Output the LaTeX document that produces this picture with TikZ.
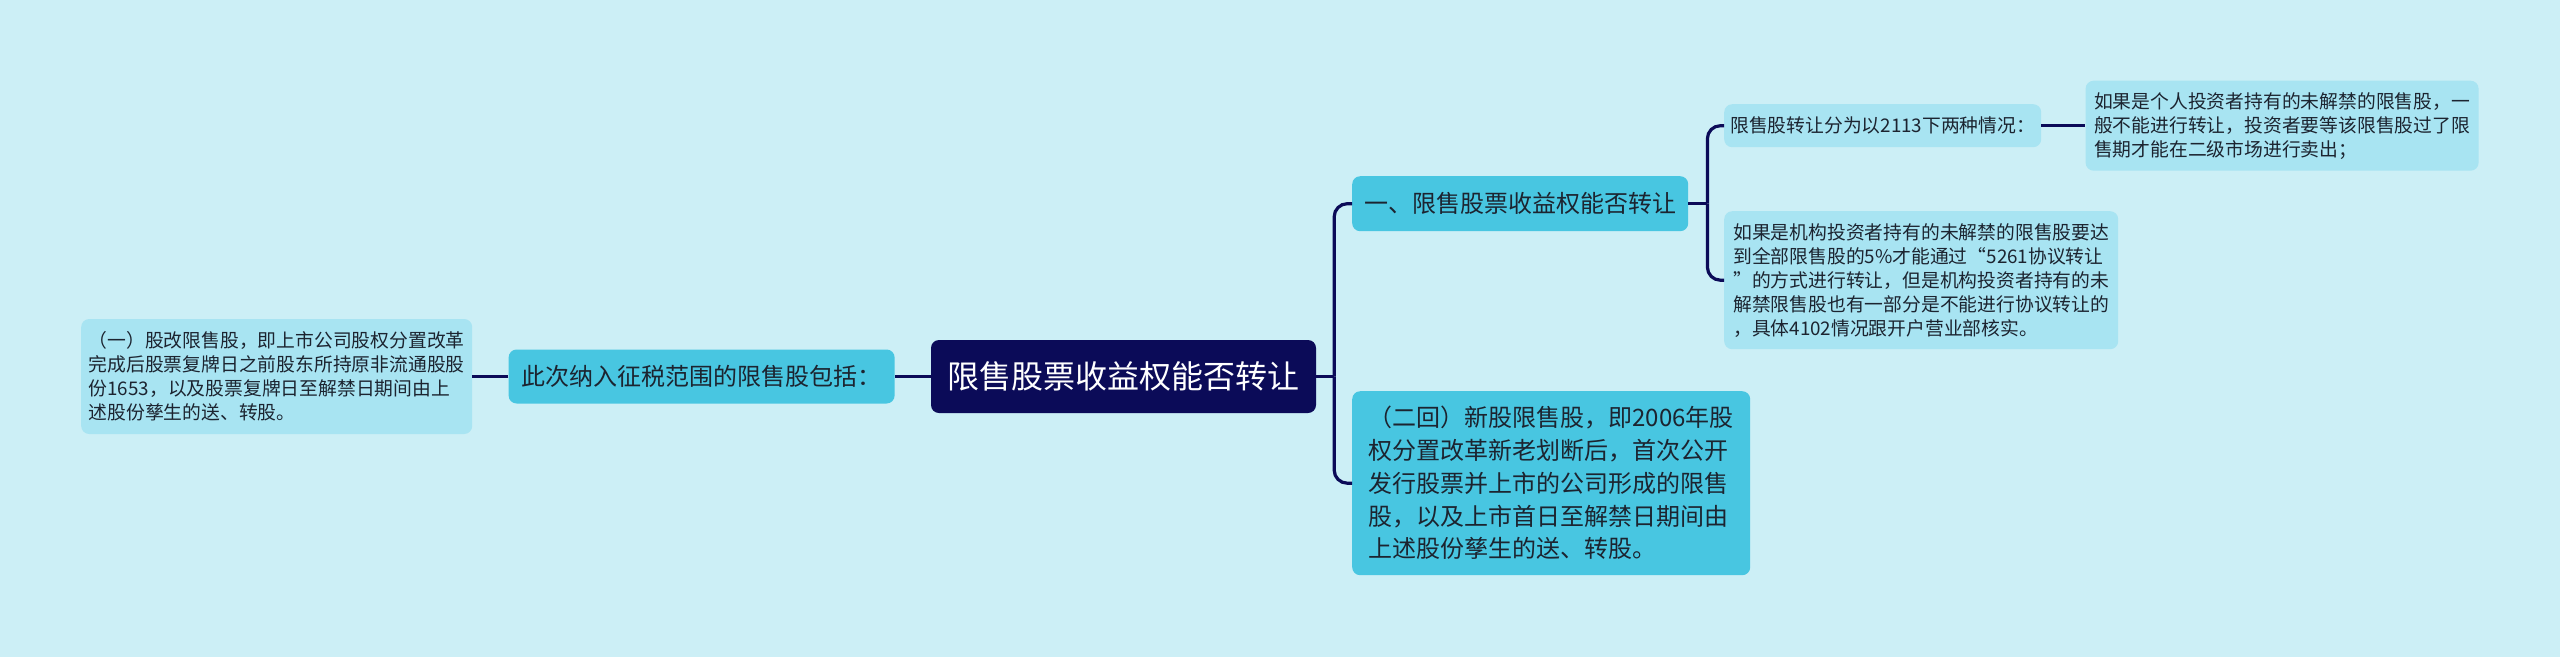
\documentclass[tikz,border=0pt]{standalone}
\usepackage{fontspec}
\setmainfont{Noto Sans CJK SC}
\usepackage{xcolor}
\usetikzlibrary{positioning,calc}
\definecolor{bgcyan}{HTML}{CCEFF6}
\definecolor{navy}{HTML}{0B0B58}
\definecolor{midcyan}{HTML}{48C6E1}
\definecolor{palecyan}{HTML}{A8E4F2}
\definecolor{inkdark}{HTML}{1C2430}
\newcommand{\branchfont}{\fontsize{24}{32.75}\selectfont}
\newcommand{\leaffont}{\fontsize{18.8}{24}\selectfont}
\tikzset{
  mynode/.style={
    fill=#1, rounded corners=8pt, inner sep=0pt,
    align=left, text=inkdark,
  },
  rootnode/.style={
    fill=navy, text=white, rounded corners=8pt, inner sep=0pt,
    font=\fontsize{32}{38}\selectfont,
  },
  link/.style={draw=navy, line width=3.2pt, rounded corners=13pt},
}

\begin{document}
\begin{tikzpicture}[x=1pt, y=-1pt]

  \path[use as bounding box, fill=bgcyan] (0,0) rectangle (2560,657);

  \node[rootnode, minimum width=385pt, minimum height=73pt] (root)
    at (1123.5,376.5) {限售股票收益权能否转让};

  \node[mynode=midcyan, font=\branchfont, minimum width=386pt, minimum height=54pt,
        left=36pt of root] (taxed)
    {此次纳入征税范围的限售股包括：};

  \node[mynode=palecyan, font=\leaffont, minimum width=391pt, minimum height=115pt,
        left=36pt of taxed] (oldshares)
    {（一）股改限售股，即上市公司股权分置改革\\
     完成后股票复牌日之前股东所持原非流通股股\\
     份1653，以及股票复牌日至解禁日期间由上\\
     述股份孳生的送、转股。};

  \node[mynode=midcyan, font=\branchfont, minimum width=336pt, minimum height=55pt,
        anchor=north west] (canmove) at (1352,176)
    {一、限售股票收益权能否转让};

  \node[mynode=midcyan, font=\branchfont, minimum width=398pt, minimum height=184pt,
        anchor=north west] (newshares) at (1352,391)
    {（二回）新股限售股，即2006年股\\
     权分置改革新老划断后，首次公开\\
     发行股票并上市的公司形成的限售\\
     股，以及上市首日至解禁日期间由\\
     上述股份孳生的送、转股。};

  \node[mynode=palecyan, font=\leaffont, minimum width=317pt, minimum height=43pt,
        anchor=north west] (twocases) at (1724,104)
    {限售股转让分为以2113下两种情况：};

  \node[mynode=palecyan, font=\leaffont, minimum width=393pt, minimum height=90pt,
        right=44pt of twocases] (person)
    {如果是个人投资者持有的未解禁的限售股，一\\
     般不能进行转让，投资者要等该限售股过了限\\
     售期才能在二级市场进行卖出；};

  \node[mynode=palecyan, font=\leaffont, minimum width=394pt, minimum height=138pt,
        anchor=north west] (institution) at (1724,211)
    {如果是机构投资者持有的未解禁的限售股要达\\
     到全部限售股的5\%才能通过“5261协议转让\\
     ”的方式进行转让，但是机构投资者持有的未\\
     解禁限售股也有一部分是不能进行协议转让的\\
     ，具体4102情况跟开户营业部核实。};

  \coordinate (rspine) at ($(root.east)+(18,0)$);
  \coordinate (cspine) at ($(canmove.east)+(19,0)$);

  \draw[link] (root.west) -- (taxed.east);
  \draw[link] (taxed.west) -- (oldshares.east);
  \draw[link] (root.east) -- (rspine);
  \draw[link] (canmove.west) -| (rspine);
  \draw[link] (newshares.west) -| (rspine);
  \draw[link] (canmove.east) -- (cspine);
  \draw[link] (twocases.west) -| (cspine);
  \draw[link] (institution.west) -| (cspine);
  \draw[link] (twocases.east) -- (person.west);

\end{tikzpicture}
\end{document}
